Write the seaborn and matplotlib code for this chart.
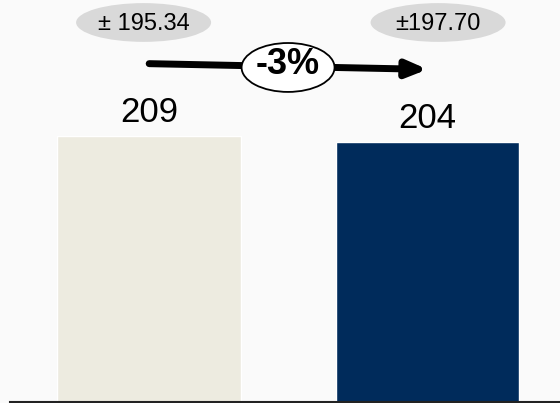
import matplotlib
matplotlib.use("Agg")
import matplotlib.pyplot as plt
from matplotlib.patches import Ellipse
import seaborn as sns

# Values shown on the two bars
categories = ["Period 1", "Period 2"]
values = [209, 204]
bar_colors = ["#EDEBE0", "#002B5B"]
# Spread shown above each bar and the change between them
spreads = ["\u00b1 195.34", "\u00b1197.70"]
change_label = "-3%"

sns.set_theme(style="white")
plt.rcParams["font.family"] = ["Liberation Sans", "DejaVu Sans"]

W, H = 560, 403
fig = plt.figure(figsize=(W / 100, H / 100), dpi=100, facecolor="#FAFAFA")
ax = fig.add_axes([10 / W, 1.5 / H, 550 / W, 401.5 / H])
ax.set_facecolor("#FAFAFA")

sns.barplot(x=categories, y=values, hue=categories, palette=bar_colors,
            legend=False, width=0.66, saturation=1, ax=ax)

ax.set_xlim(-0.5, 1.476)
ax.set_ylim(0, 316)
ax.set_xticks([])
ax.set_yticks([])
ax.set_xlabel("")
ax.set_ylabel("")
for side in ("left", "right", "top"):
    ax.spines[side].set_visible(False)
ax.spines["bottom"].set_color("#222222")
ax.spines["bottom"].set_linewidth(1.5)

# Value labels on top of the bars
for cont in ax.containers:
    ax.bar_label(cont, labels=[f"{v:.0f}" for v in cont.datavalues],
                 padding=5, fontsize=25, color="black")

# Grey pills with the spread
pill_x = [-0.02, 1.038]
for xc, txt in zip(pill_x, spreads):
    ax.add_patch(Ellipse((xc, 298.3), 0.485, 30.5, facecolor="#D9D9D9",
                         edgecolor="none", zorder=3))
    ax.text(xc, 297.5, txt, ha="center", va="center", fontsize=17,
            color="black", zorder=4)

# Arrow from the first bar to the second
ax.annotate("", xy=(1.0, 261.4), xytext=(0.0, 265.9),
            arrowprops=dict(arrowstyle="-|>,head_length=12,head_width=5",
                            mutation_scale=1, lw=5, color="black",
                            shrinkA=0, shrinkB=0), zorder=3)

# Change badge in the middle of the arrow
ax.add_patch(Ellipse((0.499, 262.9), 0.334, 38.5, facecolor="white",
                     edgecolor="black", lw=1.3, zorder=5))
ax.text(0.499, 265.0, change_label, ha="center", va="center",
        fontsize=26, fontweight="bold", color="black", zorder=6)

fig.savefig("out.png", dpi=100, facecolor=fig.get_facecolor())
